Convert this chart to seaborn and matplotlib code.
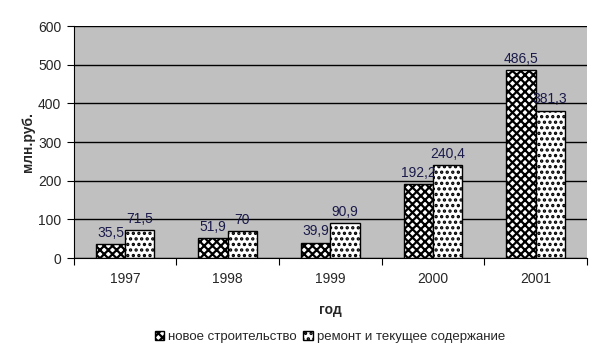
import numpy as np
import pandas as pd
import matplotlib as mpl
mpl.use('Agg')
import matplotlib.pyplot as plt
import seaborn as sns
from matplotlib.patches import Patch

years = ['1997', '1998', '1999', '2000', '2001']
new_build = [35.5, 51.9, 39.9, 192.2, 486.5]
repair = [71.5, 70, 90.9, 240.4, 381.3]
series = ['новое строительство', 'ремонт и текущее содержание']
hatches = ['xxxx', '...']

sns.set_style('white')
plt.rcParams['font.family'] = ['Liberation Sans', 'DejaVu Sans']
plt.rcParams['hatch.linewidth'] = 1.6

df = pd.DataFrame({
    'год': years * 2,
    'value': new_build + repair,
    'series': [series[0]] * 5 + [series[1]] * 5,
})

fig = plt.figure(figsize=(6, 3.53), dpi=100)
ax = fig.add_axes([0.123, 0.269, 0.855, 0.657])
sns.barplot(data=df, x='год', y='value', hue='series', hue_order=series,
            palette=['white', 'white'], edgecolor='black', linewidth=1,
            width=0.57, ax=ax, legend=False)

for cont, h in zip(ax.containers, hatches):
    for bar in cont:
        bar.set_hatch(h)
    labels = [f'{v:g}'.replace('.', ',') for v in cont.datavalues]
    ax.bar_label(cont, labels=labels, padding=3, fontsize=10, color='#1a1a4a')

ax.set_facecolor('#c0c0c0')
ax.set_ylim(0, 600)
ax.set_yticks(range(0, 601, 100))
ax.set_xlim(-0.5, 4.5)
ax.yaxis.grid(True, color='black', linewidth=1)
ax.set_axisbelow(True)
for side in ['top', 'right']:
    ax.spines[side].set_visible(False)
for side in ['left', 'bottom']:
    ax.spines[side].set_color('black')
ax.set_xticks(np.arange(-0.5, 5, 1), minor=False)
ax.set_xticklabels([])
ax.set_xticks(range(5), minor=True)
ax.set_xticklabels(years, minor=True)
ax.tick_params(axis='x', which='minor', length=0, labelsize=10, pad=10)
ax.tick_params(axis='x', which='major', length=5, direction='out', color='black')
ax.tick_params(axis='y', length=5, direction='out', color='black', labelsize=10, pad=4)
ax.tick_params(left=True, bottom=True)
ax.set_xlabel('год', fontsize=10, fontweight='bold', labelpad=12)
ax.set_ylabel('млн.руб.', fontsize=10, fontweight='bold', labelpad=2)

handles = [Patch(facecolor='white', edgecolor='black', hatch=h) for h in hatches]
fig.legend(handles, series, loc='center', bbox_to_anchor=(0.55, 0.045), ncol=2,
           frameon=False, fontsize=9.5, handlelength=0.7, handleheight=0.7,
           handletextpad=0.3, columnspacing=0.5)

fig.savefig('out.png', dpi=100)
